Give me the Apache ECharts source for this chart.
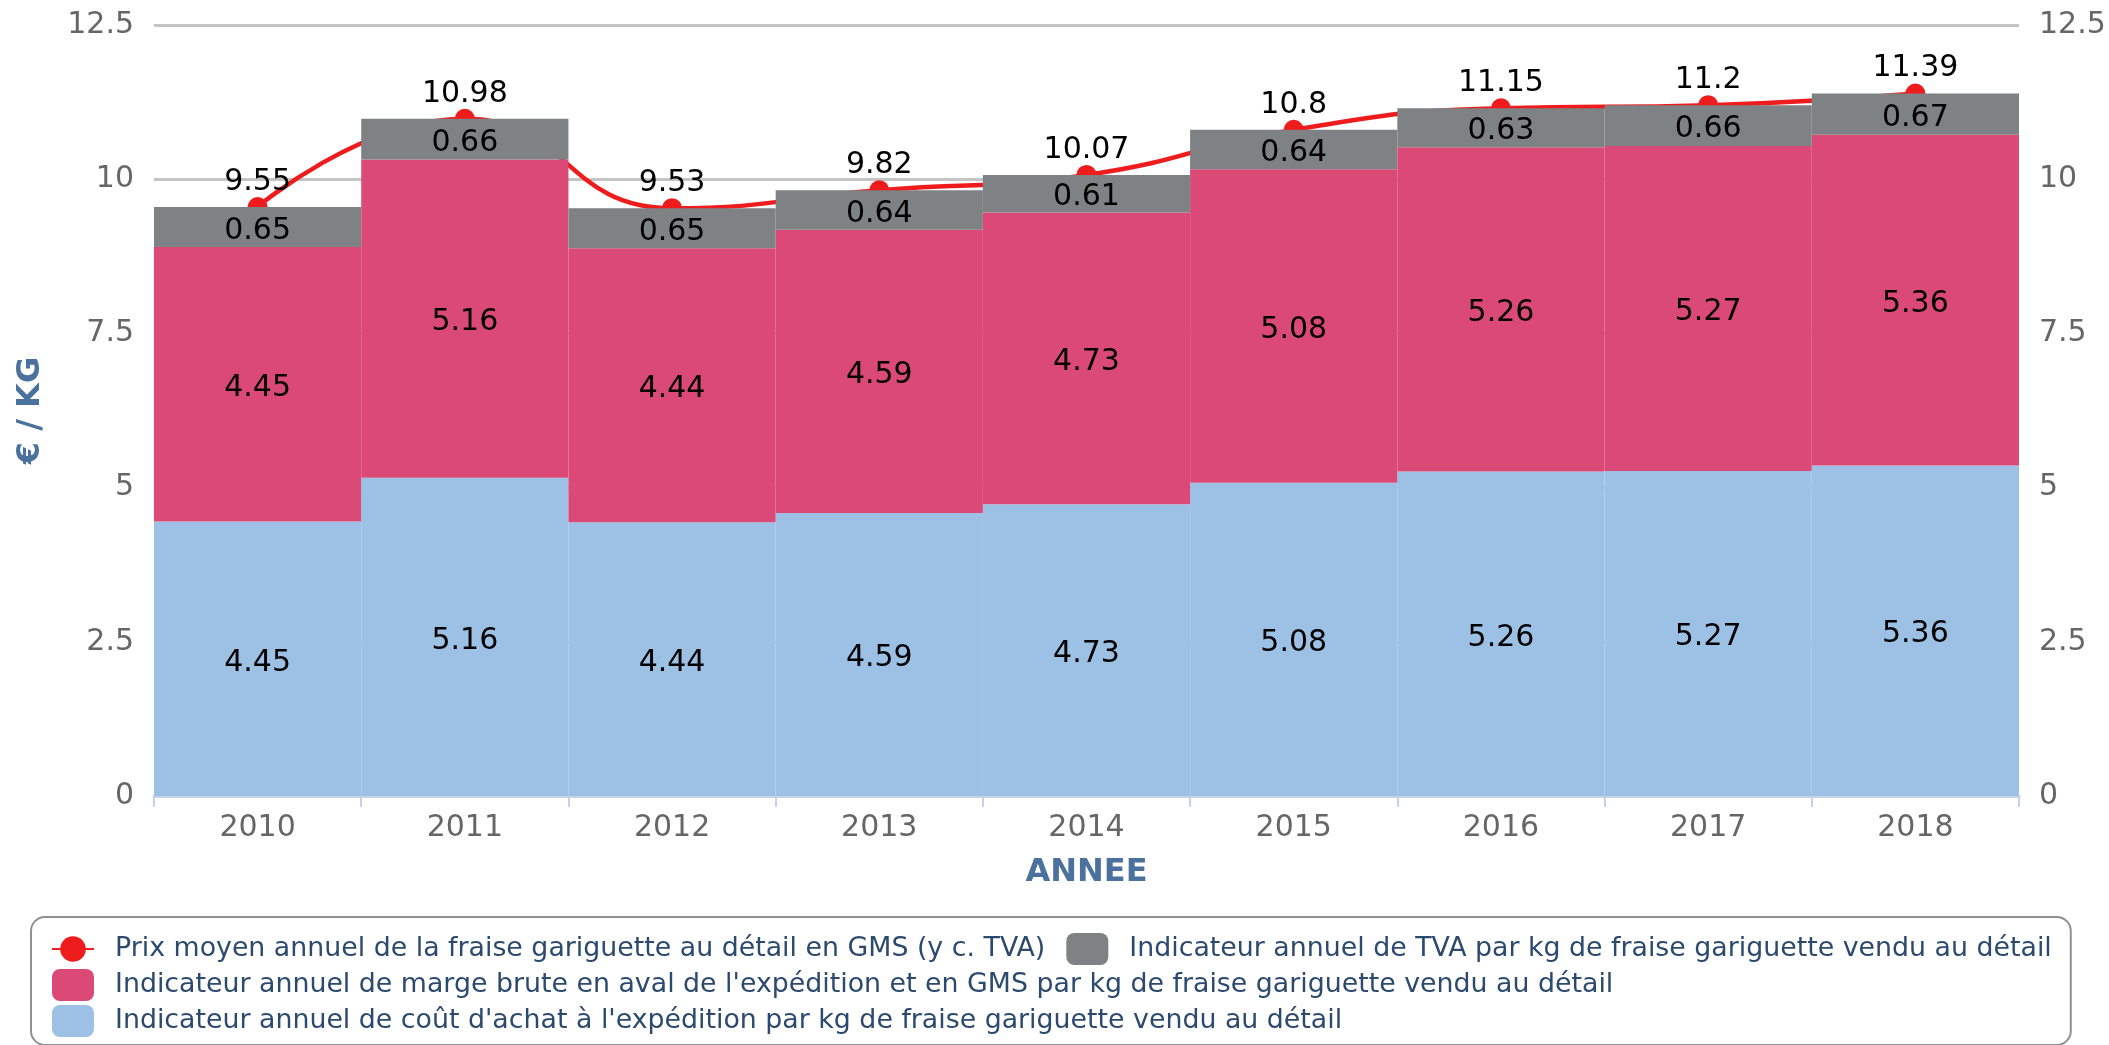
<!DOCTYPE html>
<html>
<head>
<meta charset="utf-8">
<script src="https://cdn.jsdelivr.net/npm/echarts@6/dist/echarts.min.js"></script>
<style>
html,body{margin:0;padding:0;background:#fff;}
#chart{width:2109px;height:1045px;}
</style>
</head>
<body>
<div id="chart"></div>
<script>
const years = ['2010','2011','2012','2013','2014','2015','2016','2017','2018'];
const coutAchat = [4.45, 5.16, 4.44, 4.59, 4.73, 5.08, 5.26, 5.27, 5.36];
const margeBrute = [4.45, 5.16, 4.44, 4.59, 4.73, 5.08, 5.26, 5.27, 5.36];
const tva = [0.65, 0.66, 0.65, 0.64, 0.61, 0.64, 0.63, 0.66, 0.67];
const prixMoyen = [9.55, 10.98, 9.53, 9.82, 10.07, 10.8, 11.15, 11.2, 11.39];
const yMin = 0, yMax = 12.5, yStep = 2.5;

const nameLine = 'Prix moyen annuel de la fraise gariguette au détail en GMS (y c. TVA)';
const nameTva = 'Indicateur annuel de TVA par kg de fraise gariguette vendu au détail';
const nameMarge = "Indicateur annuel de marge brute en aval de l'expédition et en GMS par kg de fraise gariguette vendu au détail";
const nameCout = "Indicateur annuel de coût d'achat à l'expédition par kg de fraise gariguette vendu au détail";

const FONT = 'DejaVu Sans';
const chart = echarts.init(document.getElementById('chart'), null, {renderer: 'canvas'});

const barLabel = {show: true, position: 'inside', color: '#000', fontSize: 30, fontFamily: FONT, offset: [0, 4]};

chart.setOption({
  animation: false,
  backgroundColor: '#fff',
  textStyle: {fontFamily: FONT},
  grid: {left: 154, right: 90, top: 25, bottom: 249, containLabel: false},
  legend: {
    left: 31, right: 5, top: 917,
    padding: [16, 19, 8, 20],
    itemGap: 4,
    itemWidth: 42, itemHeight: 32,
    borderColor: '#909090', borderWidth: 2, borderRadius: 14,
    selectedMode: false,
    formatter: n => n === nameLine ? n + '  ' : n,
    textStyle: {fontSize: 26.8, color: '#2c4a6e', fontFamily: FONT, padding: [0, 0, 0, 16]},
    data: [
      {name: nameLine},
      {name: nameTva, icon: 'roundRect'},
      {name: nameMarge, icon: 'roundRect'},
      {name: nameCout, icon: 'roundRect'}
    ]
  },
  xAxis: {
    type: 'category',
    data: years,
    name: 'ANNEE',
    nameLocation: 'middle',
    nameGap: 61,
    nameTextStyle: {fontSize: 32, fontWeight: 'bold', color: '#4b729e', fontFamily: FONT},
    axisLine: {lineStyle: {color: '#c5d3e4', width: 3}},
    axisTick: {show: true, length: 11, lineStyle: {color: '#c5d3e4', width: 2}},
    axisLabel: {fontSize: 30, color: '#666666', margin: 17, fontFamily: FONT}
  },
  yAxis: [
    {
      type: 'value', min: yMin, max: yMax, interval: yStep,
      name: '€ / KG',
      nameLocation: 'middle',
      nameGap: 107,
      nameTextStyle: {fontSize: 32, fontWeight: 'bold', color: '#4b729e', fontFamily: FONT},
      axisLine: {show: false}, axisTick: {show: false},
      axisLabel: {fontSize: 30, color: '#666666', margin: 20, fontFamily: FONT},
      splitLine: {show: true, lineStyle: {color: '#c4c4c4', width: 3}}
    },
    {
      type: 'value', min: yMin, max: yMax, interval: yStep,
      position: 'right',
      axisLine: {show: false}, axisTick: {show: false},
      axisLabel: {fontSize: 30, color: '#666666', margin: 20, fontFamily: FONT},
      splitLine: {show: false}
    }
  ],
  series: [
    {
      name: nameCout, type: 'bar', stack: 'total', data: coutAchat,
      barCategoryGap: '0%',
      itemStyle: {color: '#9cc1e5'},
      label: barLabel, z: 2
    },
    {
      name: nameMarge, type: 'bar', stack: 'total', data: margeBrute,
      barCategoryGap: '0%',
      itemStyle: {color: '#db4a77'},
      label: barLabel, z: 2
    },
    {
      name: nameTva, type: 'bar', stack: 'total', data: tva,
      barCategoryGap: '0%',
      itemStyle: {color: '#7e8285'},
      label: barLabel, z: 2
    },
    {
      name: nameLine, type: 'line', data: prixMoyen,
      smooth: 0.5,
      symbol: 'circle', symbolSize: 20,
      itemStyle: {color: '#ee1c1c'},
      lineStyle: {color: '#ee1c1c', width: 4.5},
      label: {show: true, position: 'top', distance: 0, color: '#000', fontSize: 30, fontFamily: FONT},
      z: 1
    }
  ]
});
</script>
</body>
</html>
